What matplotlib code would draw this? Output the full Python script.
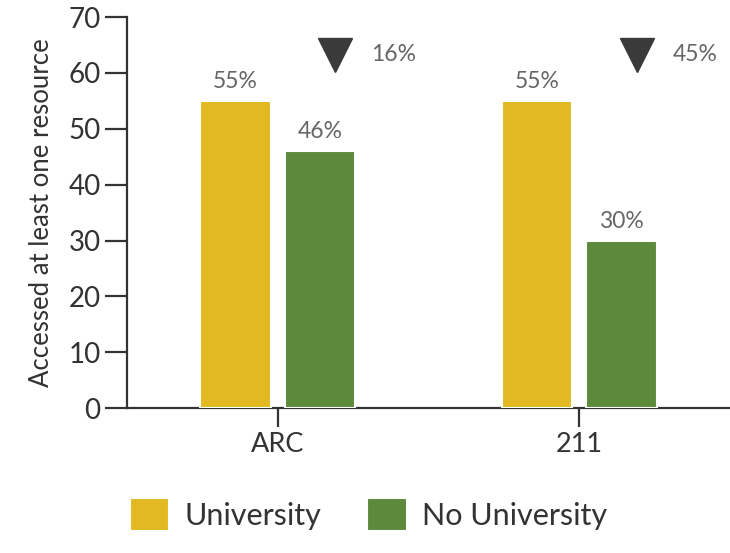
import numpy as np
import matplotlib.pyplot as plt

plt.rcParams['font.family'] = ['Lato', 'DejaVu Sans']

# Share accessing at least one resource, by group
programs = ['ARC', '211']
university = [55, 55]
no_university = [46, 30]
drop_labels = ['16%', '45%']

yellow = '#E3B922'
green = '#5B8A3A'
dark = '#333333'

fig = plt.figure(figsize=(7.3, 5.53), dpi=100)
ax = fig.add_axes([0.174, 0.262, 0.826, 0.707])

x = np.arange(len(programs))
w = 0.235
off = 0.14
b1 = ax.bar(x - off, university, w, color=yellow, edgecolor='white',
            linewidth=1.5, zorder=3, label='University')
b2 = ax.bar(x + off, no_university, w, color=green, edgecolor='white',
            linewidth=1.5, zorder=3, label='No University')

for bars, vals in [(b1, university), (b2, no_university)]:
    for rect, v in zip(bars, vals):
        ax.text(rect.get_x() + rect.get_width() / 2, v + 1.6, '%d%%' % v,
                ha='center', va='bottom', fontsize=16.5, color='#666666')

# drop markers between the two groups
for i, lab in enumerate(drop_labels):
    ax.plot(i + 0.19, 63.3, marker='v', markersize=25, color='#3a3a3a',
            linestyle='none', zorder=4)
    ax.text(i + 0.31, 63.3, lab, ha='left', va='center', fontsize=16.5,
            color='#666666')

ax.set_xlim(-0.5, 1.5)
ax.set_ylim(0, 70)
ax.set_yticks(range(0, 71, 10))
ax.set_xticks(x)
ax.set_xticklabels(programs)

for s in ['top', 'right']:
    ax.spines[s].set_visible(False)
for s in ['left', 'bottom']:
    ax.spines[s].set_color(dark)
    ax.spines[s].set_linewidth(1.6)

ax.tick_params(axis='y', length=16, width=1.6, color=dark, labelsize=20,
               labelcolor=dark, pad=3)
ax.tick_params(axis='x', length=14, width=1.6, color=dark, labelsize=19.5,
               labelcolor=dark, pad=3)
ax.set_ylabel('Accessed at least one resource', fontsize=18.5, color=dark,
              labelpad=10)

fig.legend(handles=[b1, b2], loc='lower center', bbox_to_anchor=(0.505, -0.01),
           ncol=2, frameon=False, fontsize=22, handlelength=1.3,
           handleheight=1.3, columnspacing=1.5, handletextpad=0.5,
           labelcolor=dark)

fig.savefig('out.png', dpi=100)
